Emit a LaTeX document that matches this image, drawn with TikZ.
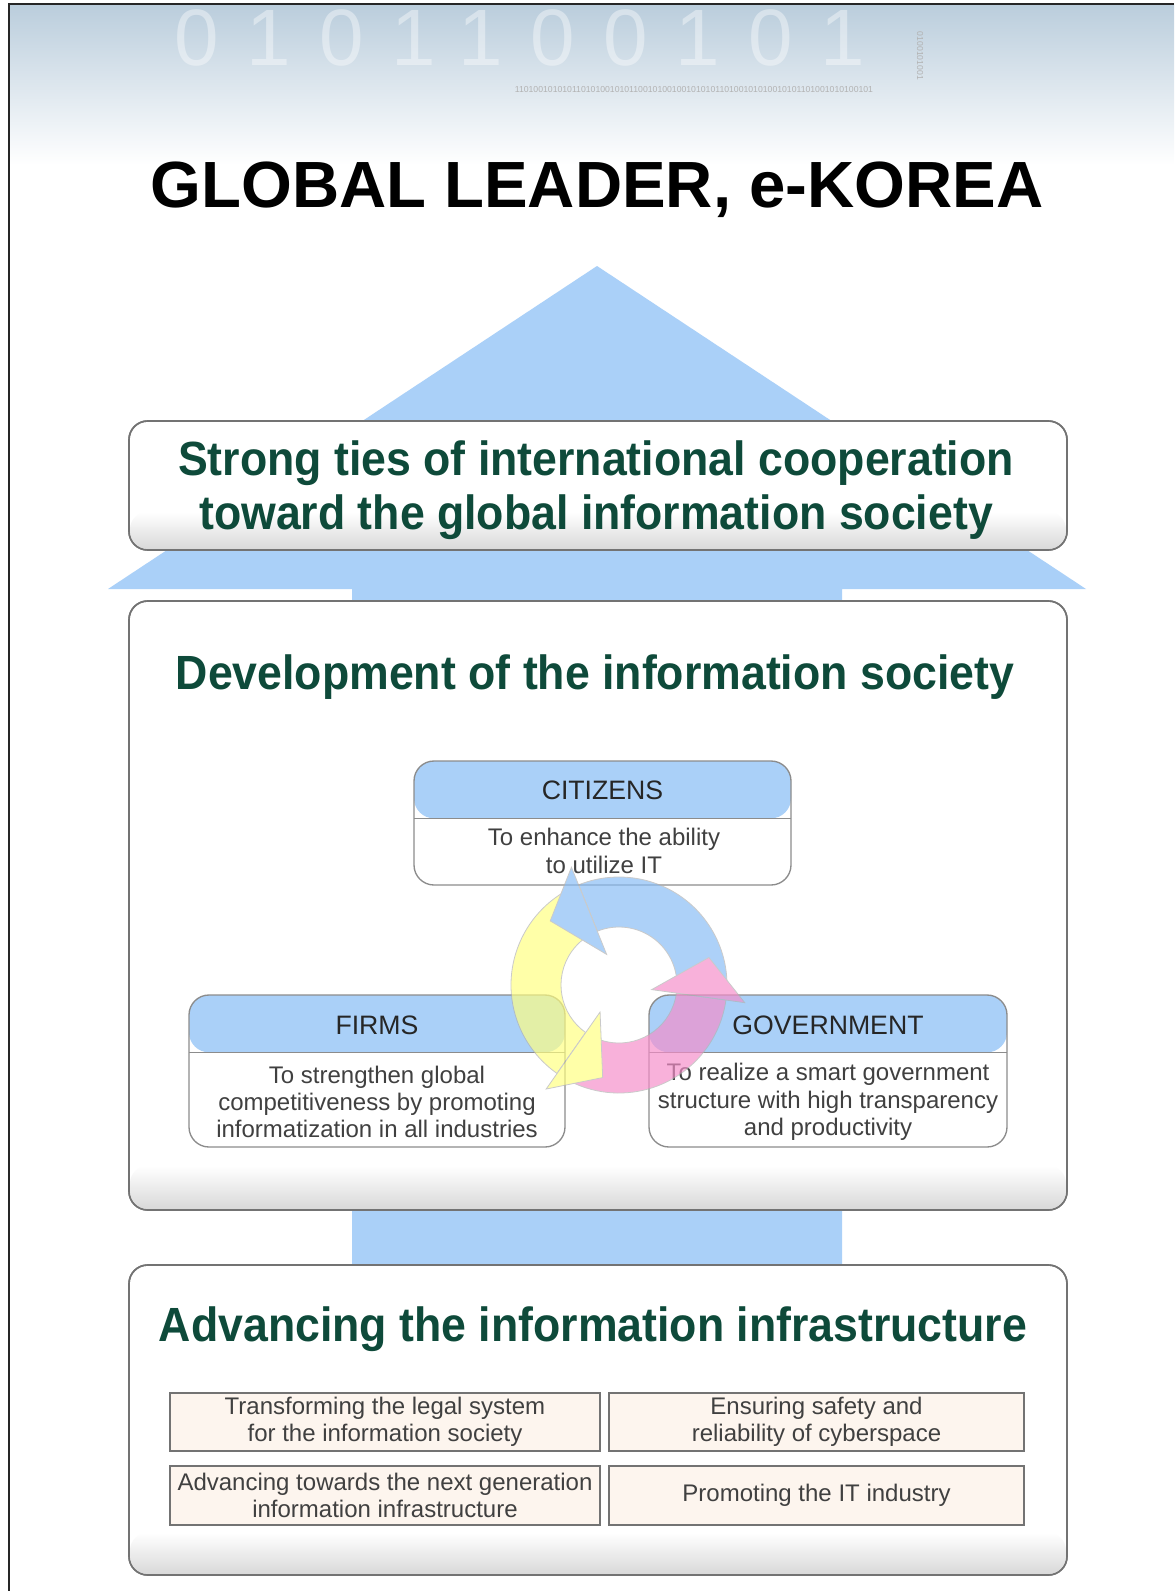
\documentclass[tikz,border=0pt]{standalone}
\usepackage{fontspec}
\setmainfont{Liberation Sans}
\newfontfamily\headfont{Liberation Sans}[FakeStretch=0.93]
\newfontfamily\bitfont{Liberation Sans}[LetterSpace=35]
\usepackage{tikz}
\usetikzlibrary{}

\definecolor{skyblue}{RGB}{170,208,248}
\definecolor{ringblue}{RGB}{135,188,245}
\definecolor{ringyellow}{RGB}{255,255,128}
\definecolor{ringpink}{RGB}{245,141,201}
\definecolor{ptgreen}{RGB}{14,74,58}
\definecolor{taskfill}{RGB}{253,245,238}
\definecolor{bannertop}{RGB}{186,205,220}

\tikzset{
  panel/.style={draw=black!55, line width=1.2pt, fill=white, rounded corners=14pt},
  panelrim/.style={draw=black!55, line width=1.2pt, rounded corners=14pt},
  panelshade/.style={top color=white, bottom color=black!15, rounded corners=13pt},
  ptitle/.style={font=\headfont\bfseries\fontsize{36}{40}\selectfont, text=ptgreen, anchor=base},
  card/.style={draw=black!45, line width=1pt, fill=white, rounded corners=15pt, inner sep=0pt,
    path picture={\fill[skyblue] (path picture bounding box.north west) rectangle ([yshift=-43pt]path picture bounding box.north east);
      \draw[black!45, line width=1pt] ([yshift=-43pt]path picture bounding box.north west) -- ([yshift=-43pt]path picture bounding box.north east);}},
  cardhd/.style={font=\fontsize{20}{24}\selectfont, text=black!85},
  cardtxt/.style={font=\fontsize{18}{20.5}\selectfont, text=black!75, align=center},
  task/.style={draw=black!55, line width=1.2pt, fill=taskfill, inner sep=0pt, align=center,
    font=\fontsize{18}{20}\selectfont, text=black!75},
  ring/.style={draw=black!30, line width=0.6pt},
}

\begin{document}
\begin{tikzpicture}[x=0.75pt, y=-0.75pt]
  \useasboundingbox (0,0) rectangle (1174,1591);
  \fill[white] (0,0) rectangle (1174,1591);

  % banner
  \shade[top color=bannertop, bottom color=white] (9,4) rectangle (1174,165);
  \node[font=\bitfont\fontsize{60}{62}\selectfont, text=white, opacity=0.4] (bits) at (520,38) {0101100101};
  \node[font=\fontsize{6.5}{7}\selectfont, text=black!30] (bitrow) at (694,90) {110100101010110101001010110010100100101010110100101010010101101001010100101};
  \node[font=\fontsize{6.5}{7}\selectfont, text=black!30, rotate=-90] (bitcol) at (920,56) {0100101001};
  \draw[black!85, line width=1.5pt] (9,1591) -- (9,4) -- (1174,4);

  % title
  \node[font=\bfseries\fontsize{49}{52}\selectfont, anchor=base] (title) at (597,207) {GLOBAL LEADER, e-KOREA};

  % big arrow
  \fill[skyblue] (597,266) -- (1086,589) -- (842,589) -- (842,1265) -- (352,1265) -- (352,589) -- (108,589) -- cycle;

  % panels
  \draw[panel] (129,421) rectangle (1067,550);
  \shade[panelshade] (130,512) rectangle (1066,549);
  \draw[panelrim] (129,421) rectangle (1067,550);
  \node[ptitle] (coop1) at (596,475) {Strong ties of international cooperation};
  \node[ptitle] (coop2) at (596,529) {toward the global information society};

  \draw[panel] (129,601) rectangle (1067,1210);
  \shade[panelshade] (130,1166) rectangle (1066,1209);
  \draw[panelrim] (129,601) rectangle (1067,1210);
  \node[ptitle] (devT) at (595,689) {Development of the information society};

  \draw[panel] (129,1265) rectangle (1067,1575);
  \shade[panelshade] (130,1533) rectangle (1066,1574);
  \draw[panelrim] (129,1265) rectangle (1067,1575);
  \node[ptitle] (infraT) at (593,1341) {Advancing the information infrastructure};

  % actors
  \node[card, minimum width=282.75pt, minimum height=93pt] (citizens) at (602.5,823) {};
  \node[cardhd] (citizensHd) at (602.5,790) {CITIZENS};
  \node[cardtxt] (citizensTx) at (604,851) {To enhance the ability\\to utilize IT};

  \node[card, minimum width=282pt, minimum height=114pt] (firms) at (377,1071) {};
  \node[cardhd] (firmsHd) at (377,1025) {FIRMS};
  \node[cardtxt] (firmsTx) at (377,1102) {To strengthen global\\competitiveness by promoting\\informatization in all industries};

  \node[card, minimum width=268.5pt, minimum height=114pt] (gov) at (828,1071) {};
  \node[cardhd] (govHd) at (828,1025) {GOVERNMENT};
  \node[cardtxt] (govTx) at (828,1102) {To realize a smart government\\structure with high transparency\\and productivity};

  % cycle
  \begin{scope}[shift={(619,985)}, transparency group, opacity=0.68]
    \path[ring, fill=ringblue] (0:108) arc[start angle=0, end angle=-112, radius=108] -- (-112:58) arc[start angle=-112, end angle=0, radius=58] -- cycle;
    \path[ring, fill=ringyellow] (-112:108) arc[start angle=-112, end angle=-235, radius=108] -- (-235:58) arc[start angle=-235, end angle=-112, radius=58] -- cycle;
    \path[ring, fill=ringpink] (-235:108) arc[start angle=-235, end angle=-352, radius=108] -- (-352:58) arc[start angle=-352, end angle=-235, radius=58] -- cycle;
    \path[ring, fill=ringblue] (-112:33) -- (-112:127) -- (-137:94) -- cycle;
    \path[ring, fill=ringyellow] (-235:33) -- (-235:127) -- (-260:94) -- cycle;
    \path[ring, fill=ringpink] (-352:33) -- (-352:127) -- (-377:94) -- cycle;
  \end{scope}

  % tasks
  \node[task, minimum width=322.5pt, minimum height=43.5pt] (legal) at (385,1422) {Transforming the legal system\\for the information society};
  \node[task, minimum width=311.25pt, minimum height=43.5pt] (safety) at (816.5,1422) {Ensuring safety and\\reliability of cyberspace};
  \node[task, minimum width=322.5pt, minimum height=44pt] (nextgen) at (385,1495.5) {Advancing towards the next generation\\information infrastructure};
  \node[task, minimum width=311.25pt, minimum height=44pt] (itind) at (816.5,1495.5) {Promoting the IT industry};
\end{tikzpicture}
\end{document}
